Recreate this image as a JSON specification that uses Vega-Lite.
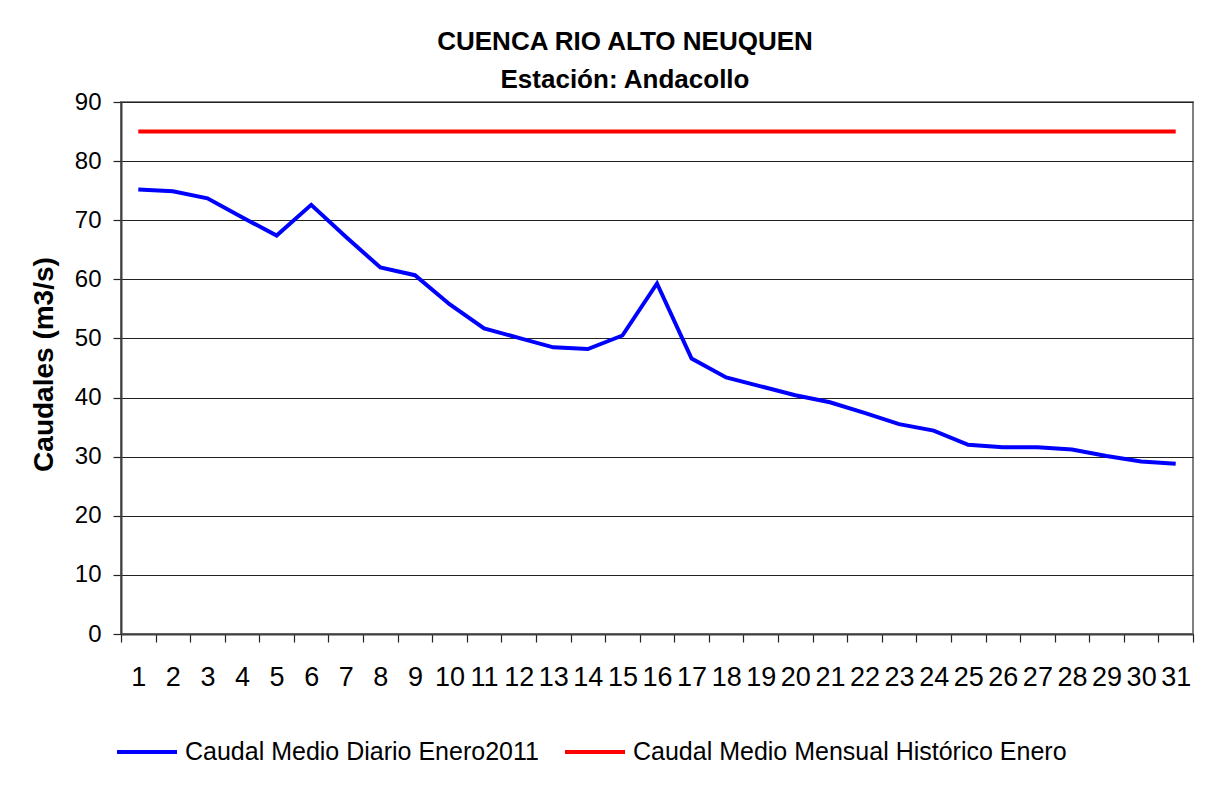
{
  "$schema": "https://vega.github.io/schema/vega-lite/v6.json",
  "autosize": "none",
  "width": 1072,
  "height": 532,
  "padding": {"left": 121, "top": 102, "right": 31, "bottom": 156},
  "background": "white",
  "config": {
    "font": "Liberation Sans",
    "view": {"stroke": "#808080", "strokeWidth": 2}
  },
  "title": {
    "text": ["CUENCA RIO ALTO NEUQUEN", "Estación: Andacollo"],
    "fontSize": 26,
    "fontWeight": "bold",
    "font": "Liberation Sans",
    "color": "black",
    "lineHeight": 38,
    "anchor": "middle",
    "frame": "group",
    "dx": -32,
    "offset": -3
  },
  "data": {
    "values": [
      {"dia": 1, "serie": "Caudal Medio Diario Enero2011", "caudal": 75.2},
      {"dia": 2, "serie": "Caudal Medio Diario Enero2011", "caudal": 74.9},
      {"dia": 3, "serie": "Caudal Medio Diario Enero2011", "caudal": 73.7},
      {"dia": 4, "serie": "Caudal Medio Diario Enero2011", "caudal": 70.5},
      {"dia": 5, "serie": "Caudal Medio Diario Enero2011", "caudal": 67.4},
      {"dia": 6, "serie": "Caudal Medio Diario Enero2011", "caudal": 72.6},
      {"dia": 7, "serie": "Caudal Medio Diario Enero2011", "caudal": 67.2},
      {"dia": 8, "serie": "Caudal Medio Diario Enero2011", "caudal": 62.0},
      {"dia": 9, "serie": "Caudal Medio Diario Enero2011", "caudal": 60.7},
      {"dia": 10, "serie": "Caudal Medio Diario Enero2011", "caudal": 55.8},
      {"dia": 11, "serie": "Caudal Medio Diario Enero2011", "caudal": 51.7},
      {"dia": 12, "serie": "Caudal Medio Diario Enero2011", "caudal": 50.1},
      {"dia": 13, "serie": "Caudal Medio Diario Enero2011", "caudal": 48.5},
      {"dia": 14, "serie": "Caudal Medio Diario Enero2011", "caudal": 48.2},
      {"dia": 15, "serie": "Caudal Medio Diario Enero2011", "caudal": 50.5},
      {"dia": 16, "serie": "Caudal Medio Diario Enero2011", "caudal": 59.3},
      {"dia": 17, "serie": "Caudal Medio Diario Enero2011", "caudal": 46.6},
      {"dia": 18, "serie": "Caudal Medio Diario Enero2011", "caudal": 43.4},
      {"dia": 19, "serie": "Caudal Medio Diario Enero2011", "caudal": 41.9},
      {"dia": 20, "serie": "Caudal Medio Diario Enero2011", "caudal": 40.4},
      {"dia": 21, "serie": "Caudal Medio Diario Enero2011", "caudal": 39.2},
      {"dia": 22, "serie": "Caudal Medio Diario Enero2011", "caudal": 37.4},
      {"dia": 23, "serie": "Caudal Medio Diario Enero2011", "caudal": 35.5},
      {"dia": 24, "serie": "Caudal Medio Diario Enero2011", "caudal": 34.4},
      {"dia": 25, "serie": "Caudal Medio Diario Enero2011", "caudal": 32.0},
      {"dia": 26, "serie": "Caudal Medio Diario Enero2011", "caudal": 31.6},
      {"dia": 27, "serie": "Caudal Medio Diario Enero2011", "caudal": 31.6},
      {"dia": 28, "serie": "Caudal Medio Diario Enero2011", "caudal": 31.2},
      {"dia": 29, "serie": "Caudal Medio Diario Enero2011", "caudal": 30.1},
      {"dia": 30, "serie": "Caudal Medio Diario Enero2011", "caudal": 29.2},
      {"dia": 31, "serie": "Caudal Medio Diario Enero2011", "caudal": 28.8},
      {"dia": 1, "serie": "Caudal Medio Mensual Histórico Enero", "caudal": 85},
      {"dia": 2, "serie": "Caudal Medio Mensual Histórico Enero", "caudal": 85},
      {"dia": 3, "serie": "Caudal Medio Mensual Histórico Enero", "caudal": 85},
      {"dia": 4, "serie": "Caudal Medio Mensual Histórico Enero", "caudal": 85},
      {"dia": 5, "serie": "Caudal Medio Mensual Histórico Enero", "caudal": 85},
      {"dia": 6, "serie": "Caudal Medio Mensual Histórico Enero", "caudal": 85},
      {"dia": 7, "serie": "Caudal Medio Mensual Histórico Enero", "caudal": 85},
      {"dia": 8, "serie": "Caudal Medio Mensual Histórico Enero", "caudal": 85},
      {"dia": 9, "serie": "Caudal Medio Mensual Histórico Enero", "caudal": 85},
      {"dia": 10, "serie": "Caudal Medio Mensual Histórico Enero", "caudal": 85},
      {"dia": 11, "serie": "Caudal Medio Mensual Histórico Enero", "caudal": 85},
      {"dia": 12, "serie": "Caudal Medio Mensual Histórico Enero", "caudal": 85},
      {"dia": 13, "serie": "Caudal Medio Mensual Histórico Enero", "caudal": 85},
      {"dia": 14, "serie": "Caudal Medio Mensual Histórico Enero", "caudal": 85},
      {"dia": 15, "serie": "Caudal Medio Mensual Histórico Enero", "caudal": 85},
      {"dia": 16, "serie": "Caudal Medio Mensual Histórico Enero", "caudal": 85},
      {"dia": 17, "serie": "Caudal Medio Mensual Histórico Enero", "caudal": 85},
      {"dia": 18, "serie": "Caudal Medio Mensual Histórico Enero", "caudal": 85},
      {"dia": 19, "serie": "Caudal Medio Mensual Histórico Enero", "caudal": 85},
      {"dia": 20, "serie": "Caudal Medio Mensual Histórico Enero", "caudal": 85},
      {"dia": 21, "serie": "Caudal Medio Mensual Histórico Enero", "caudal": 85},
      {"dia": 22, "serie": "Caudal Medio Mensual Histórico Enero", "caudal": 85},
      {"dia": 23, "serie": "Caudal Medio Mensual Histórico Enero", "caudal": 85},
      {"dia": 24, "serie": "Caudal Medio Mensual Histórico Enero", "caudal": 85},
      {"dia": 25, "serie": "Caudal Medio Mensual Histórico Enero", "caudal": 85},
      {"dia": 26, "serie": "Caudal Medio Mensual Histórico Enero", "caudal": 85},
      {"dia": 27, "serie": "Caudal Medio Mensual Histórico Enero", "caudal": 85},
      {"dia": 28, "serie": "Caudal Medio Mensual Histórico Enero", "caudal": 85},
      {"dia": 29, "serie": "Caudal Medio Mensual Histórico Enero", "caudal": 85},
      {"dia": 30, "serie": "Caudal Medio Mensual Histórico Enero", "caudal": 85},
      {"dia": 31, "serie": "Caudal Medio Mensual Histórico Enero", "caudal": 85}
    ]
  },
  "encoding": {
    "y": {
      "field": "caudal",
      "type": "quantitative",
      "scale": {"domain": [0, 90], "nice": false, "zero": true},
      "axis": {
        "title": "Caudales (m3/s)",
        "titleFontSize": 28,
        "titleFontWeight": "bold",
        "titleColor": "black",
        "titleAngle": -90,
        "titleAlign": "center",
        "titleBaseline": "middle",
        "titleX": -77,
        "titleY": 262,
        "values": [0, 10, 20, 30, 40, 50, 60, 70, 80, 90],
        "grid": true,
        "gridColor": "#222222",
        "gridWidth": 1.2,
        "gridOpacity": 1,
        "domainColor": "#404040",
        "domainWidth": 2,
        "tickColor": "#222222",
        "tickSize": 8,
        "tickWidth": 1.2,
        "labelFontSize": 24,
        "labelColor": "black",
        "labelPadding": 12
      }
    },
    "color": {
      "field": "serie",
      "type": "nominal",
      "scale": {
        "domain": ["Caudal Medio Diario Enero2011", "Caudal Medio Mensual Histórico Enero"],
        "range": ["#0000FF", "#FF0000"]
      },
      "legend": {
        "title": null,
        "orient": "none",
        "direction": "horizontal",
        "legendX": -6,
        "legendY": 618,
        "symbolType": "stroke",
        "symbolSize": 3600,
        "symbolStrokeWidth": 4,
        "labelFontSize": 25,
        "labelColor": "black",
        "labelOffset": 6,
        "columnPadding": 18,
        "labelLimit": 600
      }
    }
  },
  "layer": [
    {
      "transform": [{"filter": "datum.serie === 'Caudal Medio Diario Enero2011'"}],
      "mark": {"type": "line", "strokeWidth": 4, "strokeJoin": "miter"},
      "encoding": {
        "x": {
          "field": "dia",
          "type": "quantitative",
          "scale": {"domain": [0.5, 31.5], "nice": false, "zero": false},
          "axis": {
            "orient": "bottom",
            "title": null,
            "values": [1, 2, 3, 4, 5, 6, 7, 8, 9, 10, 11, 12, 13, 14, 15, 16, 17, 18, 19, 20, 21, 22, 23, 24, 25, 26, 27, 28, 29, 30, 31],
            "ticks": false,
            "tickSize": 0,
            "domain": false,
            "grid": false,
            "labelFontSize": 27,
            "labelColor": "black",
            "labelPadding": 30,
            "labelOverlap": false,
            "labelFlush": false
          }
        }
      }
    },
    {
      "transform": [{"filter": "datum.serie === 'Caudal Medio Mensual Histórico Enero'"}],
      "mark": {"type": "line", "strokeWidth": 4},
      "encoding": {
        "x": {
          "field": "dia",
          "type": "quantitative",
          "scale": {"domain": [0.5, 31.5], "nice": false, "zero": false},
          "axis": {
            "orient": "bottom",
            "title": null,
            "values": [0.5, 1.5, 2.5, 3.5, 4.5, 5.5, 6.5, 7.5, 8.5, 9.5, 10.5, 11.5, 12.5, 13.5, 14.5, 15.5, 16.5, 17.5, 18.5, 19.5, 20.5, 21.5, 22.5, 23.5, 24.5, 25.5, 26.5, 27.5, 28.5, 29.5, 30.5, 31.5],
            "labels": false,
            "ticks": true,
            "tickSize": 8,
            "tickColor": "#222222",
            "tickWidth": 1.2,
            "domain": true,
            "domainColor": "#404040",
            "domainWidth": 2,
            "grid": false
          }
        }
      }
    }
  ],
  "resolve": {"axis": {"x": "independent"}}
}
